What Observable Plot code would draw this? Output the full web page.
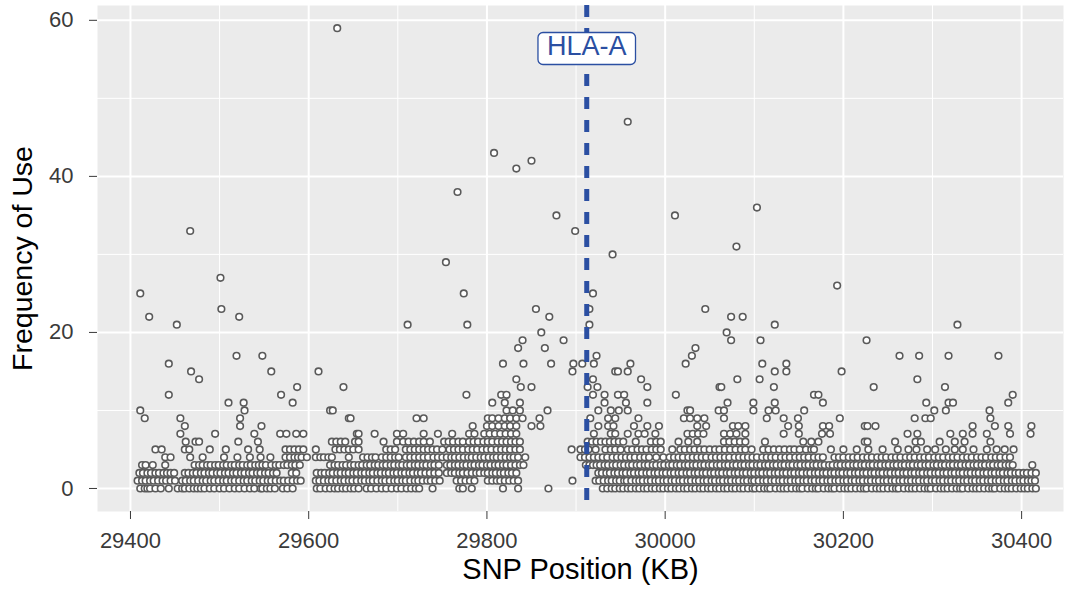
<!DOCTYPE html>
<html><head><meta charset="utf-8">
<script src="https://cdn.jsdelivr.net/npm/d3@7"></script>
<script src="https://cdn.jsdelivr.net/npm/@observablehq/plot@0.6"></script>
<style>body{margin:0;background:#fff;} svg{display:block}</style>
</head><body><div id="chart"></div>
<script>
// SNP positions (KB) at each frequency-of-use level
const row0 = [29411,29416,29419,29422,29428,29434,29443,29453,29458,29461,29466,29471,29475,29479,29483,29489,29494,29500,29505,29511,29517,29522,29528,29534,29539,29546,29548,29553,29557,29562,29571,29576,29582,29609,29613,29619,29624,29629,29633,29638,29642,29647,29651,29656,29665,29670,29676,29682,29687,29693,29699,29704,29710,29715,29720,29724,29739,29769,29773,29783,29818,29835,29869,
29930,29935,29940,29944,29949,29953,29958,29962,29967,29971,29976,29980,29985,29989,29994,29998,30003,30007,30012,30016,30021,30025,30030,30034,30039,30043,30048,30052,30057,30061,30066,30070,30075,30079,30084,30088,30093,30098,30101,30106,30111,30115,30118,30124,30129,30133,30137,30142,30147,30151,30154,30160,30165,30169,30172,30178,30183,30187,30190,30196,30201,30205,30209,30214,30219,30223,30226,30232,30237,30241,30245,30250,30255,30259,30262,30268,30273,30277,30281,30286,30291,30295,30298,30304,30309,30313,30317,30322,30327,30331,30334,30340,30345,30349,30353,30358,30363,30367,30370,30376,30381,30385,30389,30394,30399,30403,30407,30412,30416];
const row1 = [29408,29413,29417,29422,29426,29431,29436,29440,29445,29450,29458,29462,29467,29471,29476,29481,29485,29490,29494,29499,29504,29508,29513,29517,29522,29527,29531,29536,29540,29545,29549,29554,29558,29563,29568,29572,29577,29582,29587,29591,29608,29612,29617,29622,29626,29631,29636,29640,29645,29649,29654,29659,29663,29668,29672,29677,29682,29686,29691,29696,29700,29705,29709,29714,29719,29723,29728,29733,29737,29742,29747,29766,29771,29776,29781,29786,29801,29806,29811,29815,29820,29825,29830,29835,29896,
29922,29926,29931,29936,29940,29945,29949,29954,29957,29962,29967,29971,29975,29980,29984,29989,29993,29998,30002,30007,30011,30016,30020,30025,30029,30034,30038,30043,30047,30052,30056,30061,30065,30070,30074,30079,30083,30088,30092,30097,30100,30105,30110,30114,30119,30123,30128,30132,30137,30141,30146,30150,30155,30159,30164,30168,30173,30177,30182,30186,30191,30195,30200,30204,30209,30213,30218,30222,30227,30231,30236,30240,30245,30249,30254,30258,30263,30267,30272,30276,30281,30285,30290,30294,30299,30303,30308,30312,30317,30321,30326,30330,30335,30339,30344,30348,30353,30357,30362,30366,30371,30375,30380,30384,30389,30393,30398,30402,30407,30411,30415];
const row2 = [29410,29414,29419,29423,29428,29432,29437,29441,29445,29449,29461,29465,29470,29474,29479,29483,29488,29492,29497,29501,29506,29510,29515,29519,29524,29528,29533,29537,29542,29546,29551,29555,29560,29564,29581,29586,29609,29614,29618,29623,29627,29632,29636,29641,29645,29650,29654,29659,29663,29668,29672,29677,29681,29686,29690,29695,29699,29704,29708,29713,29717,29722,29726,29731,29736,29741,29746,29755,29760,29764,29769,29773,29778,29783,29788,29792,29797,29801,29806,29810,29815,29819,29824,29828,29833,
29925,29929,29934,29938,29943,29947,29952,29956,29961,29965,29970,29974,29979,29983,29988,29992,29997,30001,30006,30010,30015,30019,30024,30028,30033,30037,30042,30046,30051,30055,30060,30064,30069,30073,30078,30082,30087,30091,30096,30100,30105,30109,30114,30118,30123,30127,30132,30136,30141,30145,30150,30154,30159,30163,30168,30172,30177,30181,30186,30190,30195,30199,30204,30208,30213,30217,30222,30226,30231,30235,30240,30244,30249,30253,30258,30262,30267,30271,30276,30280,30285,30289,30294,30298,30303,30307,30312,30316,30321,30325,30330,30334,30339,30343,30348,30352,30357,30361,30366,30370,30375,30379,30384,30388,30393,30397,30402,30406,30411,30416];
const row3 = [29413,29417,29425,29439,29472,29477,29481,29486,29490,29495,29499,29504,29508,29513,29517,29522,29526,29531,29535,29540,29544,29548,29552,29558,29563,29567,29572,29576,29581,29585,29590,29624,29629,29633,29638,29642,29647,29651,29656,29660,29665,29669,29674,29678,29683,29687,29692,29696,29701,29705,29710,29714,29719,29723,29728,29732,29737,29741,29746,29755,29759,29764,29768,29773,29777,29782,29786,29791,29795,29800,29804,29809,29813,29818,29822,29827,29832,29837,29841,
29911,29915,29919,29923,29927,29932,29936,29941,29945,29950,29954,29959,29963,29968,29972,29977,29981,29986,29990,29995,29999,30004,30008,30013,30017,30022,30026,30031,30035,30040,30044,30049,30053,30058,30062,30067,30071,30076,30080,30085,30089,30094,30098,30103,30107,30112,30116,30121,30125,30130,30134,30139,30143,30148,30152,30157,30161,30166,30170,30175,30179,30184,30188,30193,30197,30202,30206,30211,30215,30220,30224,30229,30233,30238,30242,30247,30251,30256,30260,30265,30269,30274,30278,30283,30287,30292,30296,30301,30305,30310,30314,30319,30323,30328,30332,30337,30341,30346,30350,30355,30359,30364,30368,30373,30377,30382,30386,30390,30412];
const row4 = [29439,29445,29467,29481,29505,29520,29534,29546,29557,29574,29579,29584,29588,29592,29598,29608,29613,29617,29622,29626,29645,29661,29666,29671,29675,29682,29687,29692,29697,29701,29709,29714,29719,29724,29729,29734,29740,29745,29750,29755,29760,29764,29769,29774,29779,29783,29788,29793,29797,29802,29807,29811,29816,29821,29826,29830,29835,29843,
29905,29910,29915,29920,29925,29930,29935,29941,29946,29951,29956,29961,29966,29972,29977,29982,29990,29998,30005,30010,30015,30020,30026,30031,30036,30041,30046,30052,30057,30062,30067,30072,30078,30083,30088,30093,30098,30103,30109,30114,30119,30124,30130,30135,30140,30146,30151,30156,30161,30167,30172,30177,30190,30195,30200,30206,30211,30216,30222,30227,30232,30238,30243,30248,30254,30259,30264,30270,30275,30280,30286,30291,30296,30302,30307,30312,30318,30323,30328,30334,30339,30344,30350,30355,30360,30366,30371,30376,30382,30387];
const row5 = [29428,29435,29461,29466,29489,29507,29532,29545,29574,29579,29584,29589,29594,29608,29630,29635,29640,29645,29650,29656,29687,29692,29697,29709,29714,29719,29724,29729,29734,29739,29744,29750,29758,29763,29768,29773,29779,29784,29789,29795,29800,29805,29811,29816,29821,29826,29832,29837,29895,
29905,29910,29914,29922,29933,29939,29944,29950,29958,29963,29969,29974,29979,29985,29990,29995,30008,30017,30022,30028,30033,30039,30044,30050,30056,30061,30067,30073,30079,30085,30090,30097,30110,30116,30122,30128,30134,30140,30145,30151,30158,30164,30167,30186,30200,30215,30228,30244,30261,30273,30282,30294,30303,30315,30325,30334,30346,30361,30372,30381,30391];
const row6 = [29462,29473,29477,29521,29543,29626,29631,29636,29641,29652,29656,29684,29699,29706,29712,29718,29724,29729,29736,29752,29757,29762,29768,29773,29780,29785,29790,29796,29801,29806,29812,29817,29822,29827,29832,29837,29913,29918,29923,29928,29933,29938,29943,29948,29953,29967,29984,29990,29995,30015,30026,30036,30066,30072,30078,30084,30090,30112,30155,30164,30172,30224,30227,30258,30281,30287,30308,30325,30336,30365];
const row7 = [29456,29495,29539,29568,29575,29586,29594,29654,29656,29674,29699,29706,29729,29745,29761,29780,29786,29797,29803,29809,29815,29821,29827,29833,29920,29939,29944,29958,29970,29977,29989,30025,30031,30037,30043,30066,30073,30080,30090,30133,30150,30176,30185,30272,30283,30320,30334,30345,30361,30387,30410];

// Higher frequency levels and their SNP positions (KB)
const upperLevels = [8,9,10,11,12,13,14,15,16,17,18,19,20,21,22,23,25,26,27,29,30,31,33,35,36,38,41,42,43,47,59];
const upperPositions = [
  [29461,29523,29547,29784,29800,29806,29813,29820,29826,29833,29850,29860,29925,29936,29942,29965,29980,29993,30036,30046,30076,30082,30090,30138,30150,30177,30184,30224,30227,30236,30345,30370,30385,30411],
  [29416,29456,29523,29645,29647,29721,29729,29801,29806,29813,29820,29826,29833,29840,29859,29916,29936,29944,29970,30021,30028,30036,30044,30066,30114,30133,30149,30196,30280,30292,30298,30365],
  [29411,29528,29624,29627,29822,29829,29837,29868,29925,29939,29948,29958,30025,30028,30060,30066,30099,30116,30124,30156,30302,30315,30364],
  [29510,29527,29582,29806,29820,29837,29932,29956,29980,30070,30099,30123,30177,30293,30318,30323,30385],
  [29443,29569,29777,29816,29822,29919,29932,29947,29954,30012,30167,30172,30390],
  [29587,29639,29838,29850,29913,29924,29980,30061,30063,30122,30234,30314],
  [29477,29833,29919,29973,30081,30106,30283],
  [29468,29558,29611,29896,29944,29947,29958,30123,30136,30198],
  [29443,29818,29841,29872,29897,29907,29920,29961,30023,30109,30136],
  [29519,29548,29923,30030,30263,30285,30318,30374],
  [29835,29865,30034],
  [29840,29886,30074,30107,30226],
  [29861,30069],
  [29452,29711,29778,29915,30123,30328],
  [29421,29522,29870,30074,30087],
  [29502,29855,29915,30045],
  [29411,29774,29919],
  [30193],
  [29501],
  [29754],
  [29941],
  [30080],
  [29467,29899],
  [29878,30011],
  [30103],
  [29767],
  [29833],
  [29850],
  [29808],
  [29958],
  [29632]
];

const hlaPosition = 29912;
const hlaLabelY = 56.6;
const hlaLabel = "HLA-A";
const xMajorTicks = [29400,29600,29800,30000,30200,30400];
const xMinorTicks = [29500,29700,29900,30100,30300];
const yMajorTicks = [0,20,40,60];
const yMinorTicks = [10,30,50];

const lowRows = [row0,row1,row2,row3,row4,row5,row6,row7];
const data = [];
lowRows.forEach((r, i) => r.forEach(kb => data.push({kb, freq: i})));
upperLevels.forEach((lv, i) => upperPositions[i].forEach(kb => data.push({kb, freq: lv})));

const ink = "#5a5a5a";
const blue = "#2b4fa2";
const chart = Plot.plot({
  width: 1073, height: 589,
  marginLeft: 97, marginRight: 10, marginTop: 5, marginBottom: 78,
  style: {fontFamily: '"Liberation Sans", Arial, sans-serif', background: "#fff", overflow: "visible"},
  x: {domain: [29363, 30447]},
  y: {domain: [-2.95, 61.9]},
  marks: [
    Plot.frame({fill: "#ebebeb", stroke: null}),
    Plot.gridX(xMinorTicks, {stroke: "#fff", strokeOpacity: 1, strokeWidth: 1}),
    Plot.gridY(yMinorTicks, {stroke: "#fff", strokeOpacity: 1, strokeWidth: 1}),
    Plot.gridX(xMajorTicks, {stroke: "#fff", strokeOpacity: 1, strokeWidth: 2}),
    Plot.gridY(yMajorTicks, {stroke: "#fff", strokeOpacity: 1, strokeWidth: 2}),
    Plot.axisX(xMajorTicks, {tickSize: 8, tickPadding: 13, fontSize: 22, color: "#3a3a3a", label: null, tickFormat: d => String(d)}),
    Plot.axisY(yMajorTicks, {tickSize: 8, tickPadding: 16, fontSize: 22, color: "#3a3a3a", label: null}),
    Plot.dot(data, {x: "kb", y: "freq", r: 3.3, stroke: ink, strokeWidth: 1.6, fill: "#fff"}),
    Plot.ruleX([hlaPosition], {stroke: blue, strokeWidth: 5, strokeDasharray: "12,11"}),
    Plot.text([hlaLabel], {x: hlaPosition, y: hlaLabelY, fill: blue, fontSize: 27}),
    Plot.text(["SNP Position (KB)"], {frameAnchor: "bottom", dy: 67, fontSize: 29, fill: "#000"}),
    Plot.text(["Frequency of Use"], {frameAnchor: "left", textAnchor: "middle", rotate: -90, dx: -75, fontSize: 28.5, fill: "#000"})
  ]
});
document.getElementById("chart").append(chart);

// white rounded box behind the HLA-A label
const t = [...chart.querySelectorAll("text")].find(e => e.textContent === hlaLabel);
if (t) {
  const bb = t.getBBox();
  const rect = document.createElementNS("http://www.w3.org/2000/svg", "rect");
  rect.setAttribute("x", bb.x - 9);
  rect.setAttribute("y", bb.y + 1);
  rect.setAttribute("width", bb.width + 18);
  rect.setAttribute("height", bb.height + 2);
  rect.setAttribute("rx", 5);
  rect.setAttribute("fill", "#fff");
  rect.setAttribute("stroke", blue);
  rect.setAttribute("stroke-width", 1.3);
  if (t.getAttribute("transform")) rect.setAttribute("transform", t.getAttribute("transform"));
  t.parentNode.insertBefore(rect, t);
}
</script>
</body></html>
